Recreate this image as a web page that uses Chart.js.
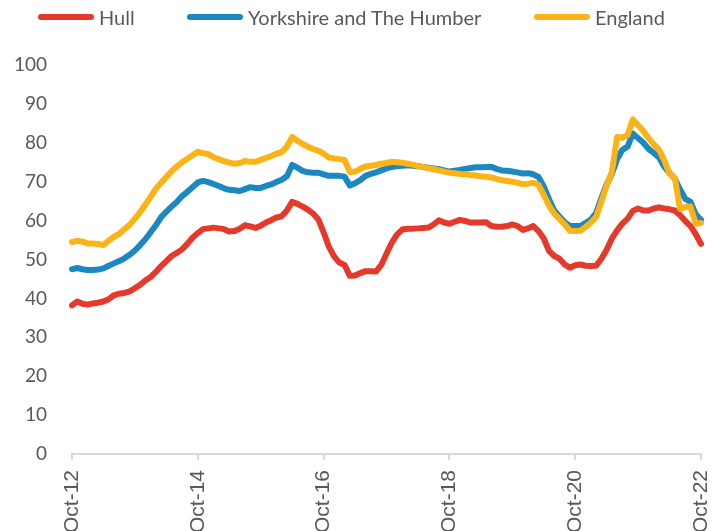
<!DOCTYPE html>
<html>
<head>
<meta charset="utf-8">
<script src="https://cdn.jsdelivr.net/npm/chart.js@4/dist/chart.umd.min.js"></script>
<style>
  html, body { margin: 0; padding: 0; background: #fff; overflow: hidden; }
  #wrap { position: relative; width: 724px; height: 543px; }
  .legend-item { position: absolute; top: 4px; height: 26px; display: flex; align-items: center;
                 font-family: Lato, sans-serif; font-size: 20px; color: #595959; white-space: nowrap; }
  .legend-item i { display: inline-block; width: 56px; height: 6px; border-radius: 3px; margin-right: 5px; }
</style>
</head>
<body>
<div id="wrap">
  <div id="legend"></div>
  <canvas id="chart"></canvas>
</div>
<script>
// Monthly, Oct-12 .. Oct-22
const tickLabels = ['Oct-12', 'Oct-14', 'Oct-16', 'Oct-18', 'Oct-20', 'Oct-22'];
const monthNames = ['Jan', 'Feb', 'Mar', 'Apr', 'May', 'Jun', 'Jul', 'Aug', 'Sep', 'Oct', 'Nov', 'Dec'];

const hull = [
  38.2, 39.2, 38.6, 38.4, 38.7, 38.9, 39.2, 39.8, 40.8, 41.2, 41.4, 41.8, 42.6, 43.5, 44.6, 45.5,
  46.8, 48.3, 49.6, 50.9, 51.7, 52.6, 54.0, 55.6, 56.8, 57.8, 58.0, 58.2, 58.0, 57.8, 57.2, 57.3,
  57.9, 58.8, 58.5, 58.1, 58.7, 59.5, 60.1, 60.8, 61.1, 62.6, 64.8, 64.3, 63.6, 62.8, 61.8, 60.3,
  57.0, 53.3, 50.8, 49.2, 48.6, 45.8, 45.9, 46.5, 47.0, 47.0, 46.9, 48.6, 51.5, 54.3, 56.4, 57.7,
  57.9, 57.9, 58.0, 58.1, 58.2, 59.0, 60.1, 59.5, 59.2, 59.7, 60.2, 59.9, 59.5, 59.5, 59.5, 59.6,
  58.6, 58.4, 58.4, 58.6, 59.0, 58.6, 57.6, 58.0, 58.6, 57.3, 55.4, 52.2, 50.9, 50.2, 48.7, 47.9,
  48.5, 48.7, 48.4, 48.3, 48.4, 50.2, 52.5, 55.4, 57.5, 59.2, 60.5, 62.5, 63.1, 62.6, 62.6, 63.1,
  63.4, 63.1, 62.9, 62.6, 61.4, 59.9, 58.6, 56.5, 54.0
];

const yorkshire = [
  47.5, 47.8, 47.5, 47.3, 47.3, 47.4, 47.7, 48.4, 49.0, 49.6, 50.3, 51.2, 52.3, 53.7, 55.2, 57.0,
  58.8, 60.9, 62.3, 63.6, 64.8, 66.3, 67.4, 68.6, 69.8, 70.2, 69.9, 69.4, 68.9, 68.3, 67.9, 67.8,
  67.6, 68.1, 68.6, 68.4, 68.4, 68.9, 69.3, 69.9, 70.5, 71.4, 74.3, 73.6, 72.8, 72.4, 72.3, 72.3,
  71.9, 71.5, 71.5, 71.5, 71.3, 69.0, 69.6, 70.4, 71.5, 72.0, 72.4, 72.9, 73.4, 73.8, 74.0, 74.1,
  74.2, 74.1, 74.0, 73.8, 73.6, 73.4, 73.2, 72.9, 72.6, 72.8, 73.0, 73.3, 73.5, 73.7, 73.7, 73.8,
  73.8, 73.3, 72.9, 72.8, 72.6, 72.4, 72.1, 72.2, 71.9, 71.2, 68.8, 65.5, 62.6, 61.0, 59.6, 58.6,
  58.6, 58.6, 59.4, 60.3, 62.0, 65.8, 69.3, 72.0, 75.8, 78.2, 79.0, 82.4, 81.2, 80.0, 78.4, 77.4,
  76.2, 73.8, 72.2, 70.8, 68.0, 65.6, 64.8, 61.6, 60.2
];

const england = [
  54.5, 54.8, 54.6, 54.1, 54.1, 54.0, 53.7, 54.9, 55.8, 56.6, 57.8, 58.9, 60.5, 62.2, 64.1, 66.1,
  68.2, 69.7, 71.2, 72.7, 73.9, 75.0, 75.9, 76.8, 77.7, 77.3, 77.1, 76.3, 75.8, 75.3, 74.9, 74.6,
  74.8, 75.3, 75.1, 75.1, 75.6, 76.1, 76.6, 77.2, 77.6, 79.0, 81.5, 80.5, 79.7, 79.0, 78.4, 78.0,
  77.2, 76.2, 76.0, 75.8, 75.6, 72.5, 72.6, 73.3, 73.9, 74.1, 74.3, 74.6, 74.8, 75.1, 75.0, 74.9,
  74.6, 74.4, 74.0, 73.8, 73.5, 73.2, 72.9, 72.6, 72.3, 72.2, 72.0, 71.9, 71.7, 71.6, 71.4, 71.3,
  71.1, 70.7, 70.4, 70.2, 70.0, 69.7, 69.4, 69.5, 69.7, 69.2, 66.6, 63.9, 61.8, 60.4, 59.0, 57.4,
  57.3, 57.4, 58.4, 59.5, 61.0, 64.9, 69.0, 72.5, 81.5, 81.3, 82.0, 86.0, 84.5, 83.0, 81.2, 79.6,
  78.2, 75.5, 72.0, 71.0, 63.0, 63.5, 63.6, 59.2, 59.4
];

const seriesNames  = ['Hull', 'Yorkshire and The Humber', 'England'];
const seriesColors = ['#e53a2b', '#1b88c2', '#fcb316'];
const legendLeft   = [38, 187, 534];

const months = [];
for (let i = 0; i < hull.length; i++) {
  const m = (9 + i) % 12;
  const y = 12 + Math.floor((9 + i) / 12);
  months.push(monthNames[m] + '-' + y);
}

// html legend (real text)
const legendEl = document.getElementById('legend');
seriesNames.forEach((name, i) => {
  const item = document.createElement('div');
  item.className = 'legend-item';
  item.style.left = legendLeft[i] + 'px';
  const sw = document.createElement('i');
  sw.style.background = seriesColors[i];
  item.appendChild(sw);
  item.appendChild(document.createTextNode(name));
  legendEl.appendChild(item);
});

const makeSet = (i, data, order) => ({
  label: seriesNames[i],
  data: data,
  borderColor: seriesColors[i],
  backgroundColor: seriesColors[i],
  borderWidth: 6,
  borderJoinStyle: 'round',
  borderCapStyle: 'round',
  pointRadius: 0,
  tension: 0,
  order: order
});

const gray = '#595959';

new Chart(document.getElementById('chart'), {
  type: 'line',
  data: {
    labels: months,
    datasets: [makeSet(0, hull, 2), makeSet(1, yorkshire, 1), makeSet(2, england, 0)]
  },
  options: {
    responsive: true,
    maintainAspectRatio: false,
    animation: false,
    layout: { padding: { left: 0, right: 23, top: 65, bottom: 0 } },
    plugins: {
      legend: { display: false },
      tooltip: { enabled: false }
    },
    scales: {
      x: {
        afterFit: s => { s.paddingLeft = 0; s.paddingRight = 0; },
        grid: {
          display: true,
          drawOnChartArea: false,
          drawTicks: true,
          tickLength: 6,
          color: '#d9d9d9',
          lineWidth: 2
        },
        border: { display: true, color: '#d9d9d9', width: 2 },
        ticks: {
          autoSkip: false,
          maxRotation: 90,
          minRotation: 90,
          padding: 10,
          color: gray,
          font: { family: 'Liberation Sans', size: 21 },
          callback: function (val) {
            const l = this.getLabelForValue(val);
            return tickLabels.includes(l) ? l : null;
          }
        }
      },
      y: {
        min: 0,
        max: 100,
        afterFit: s => { s.width = 72; },
        grid: { display: false },
        border: { display: false },
        ticks: {
          stepSize: 10,
          padding: 17,
          color: gray,
          font: { family: 'Lato', size: 19 }
        }
      }
    }
  }
});
</script>
</body>
</html>
